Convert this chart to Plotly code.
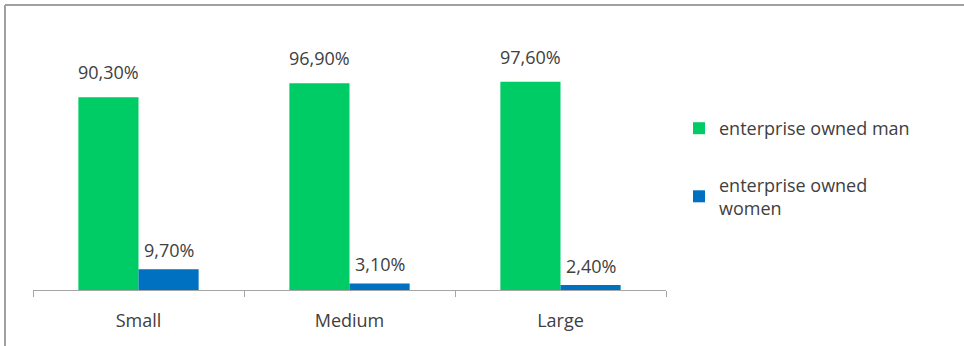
import plotly.graph_objects as go

# Share of enterprises by owner gender, per enterprise size
sizes = ["Small", "Medium", "Large"]
owned_man = [90.3, 96.9, 97.6]
owned_women = [9.7, 3.1, 2.4]
series_names = ["enterprise owned man", "enterprise owned<br>women"]

GREEN = "#00CC66"
BLUE = "#0070C0"
TEXT = "#404040"
FONT = "Open Sans"


def pct(v):
    return f"{v:.2f}%".replace(".", ",")


fig = go.Figure()
fig.add_bar(x=sizes, y=owned_man, name=series_names[0], marker_color=GREEN,
            marker_line_width=0, legendgroup="a")
fig.add_bar(x=sizes, y=owned_women, name=series_names[1], marker_color=BLUE,
            marker_line_width=0, legendgroup="b")

# value labels above each bar
annotations = []
for xs, vals, shift, lift in ((sizes, owned_man, -30, 11), (sizes, owned_women, 30, 5)):
    for c, v in zip(xs, vals):
        annotations.append(dict(x=c, y=v, xref="x", yref="y", text=pct(v),
                                showarrow=False, xshift=shift, yanchor="bottom",
                                yshift=lift, font=dict(family=FONT, size=18, color=TEXT)))

L, R, T, B = 33, 298, 34, 56
W, H = 964, 346
pw, ph = W - L - R, H - T - B
px_x = lambda p: (p - L) / pw
px_y = lambda p: (H - B - p) / ph

fig.update_layout(
    width=W, height=H,
    margin=dict(l=L, r=R, t=T, b=B),
    paper_bgcolor="white", plot_bgcolor="white",
    barmode="group", bargap=0.43, bargroupgap=0,
    font=dict(family=FONT, size=18, color=TEXT),
    showlegend=True,
    legend=dict(x=px_x(679), xanchor="left", y=px_y(110), yanchor="top",
                font=dict(family=FONT, size=18, color=TEXT),
                tracegroupgap=30, itemwidth=30, bgcolor="rgba(0,0,0,0)"),
    annotations=annotations,
    shapes=[
        dict(type="line", xref="paper", yref="paper", x0=px_x(5), x1=px_x(964),
             y0=px_y(5), y1=px_y(5), line=dict(color="#A0A0A0", width=2)),
        dict(type="line", xref="paper", yref="paper", x0=px_x(5), x1=px_x(5),
             y0=px_y(5), y1=px_y(346), line=dict(color="#A0A0A0", width=2)),
    ],
)
fig.update_xaxes(showline=True, linecolor="#A6A6A6", linewidth=1,
                 ticks="outside", tickson="boundaries", ticklen=6,
                 tickcolor="#A6A6A6", showgrid=False, ticklabelstandoff=14,
                 tickfont=dict(family=FONT, size=18, color=TEXT))
fig.update_yaxes(range=[0, 120], visible=False, showgrid=False)

fig.write_html("out.html")
